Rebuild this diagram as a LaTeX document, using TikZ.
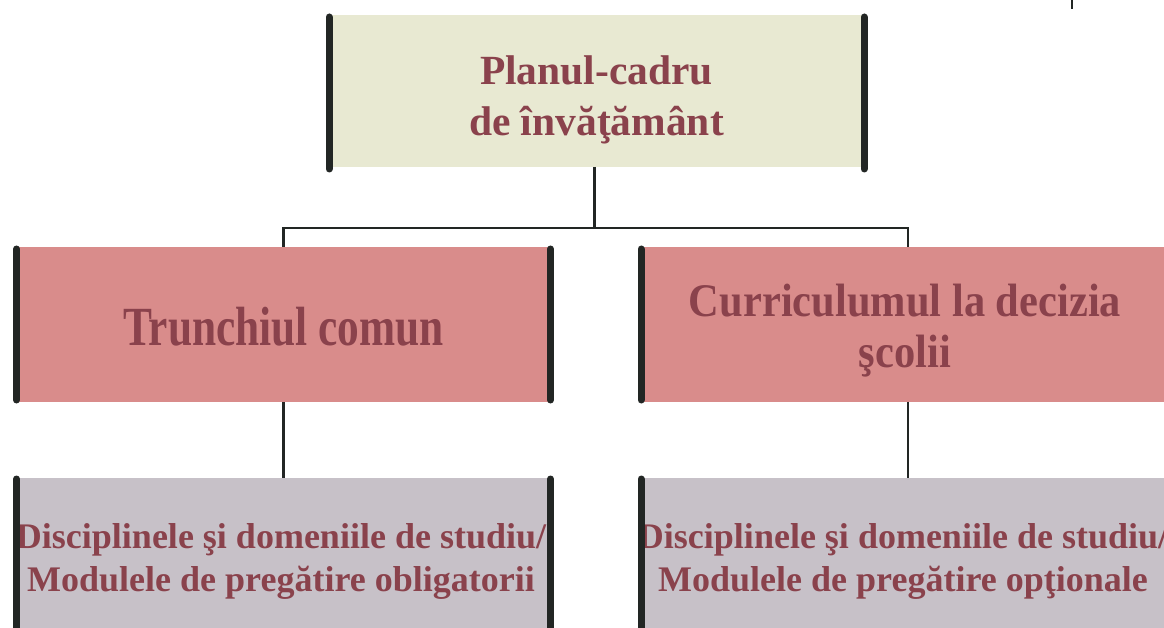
\documentclass[tikz,border=0pt]{standalone}
\usepackage{fontspec}
\setmainfont{Liberation Serif}
\definecolor{txt}{HTML}{8A424C}
\definecolor{topfill}{HTML}{E8E9D2}
\definecolor{pinkfill}{HTML}{D98C8B}
\definecolor{grayfill}{HTML}{C7C1C8}
\definecolor{barcol}{HTML}{222624}
\begin{document}
\begin{tikzpicture}[x=1pt,y=1pt,
  box/.style={inner sep=0pt, outer sep=0pt},
  topbox/.style={box, fill=topfill, minimum width=535, minimum height=152},
  pinkbox/.style={box, fill=pinkfill, minimum width=534, minimum height=155},
  graybox/.style={box, fill=grayfill, minimum width=534, minimum height=182},
  lbl/.style={inner sep=0pt, align=center, text=txt},
  bigfont/.style={font=\fontsize{41.5}{51}\selectfont\bfseries},
  pinkfont/.style={font=\fontsize{42.5}{51}\selectfont\bfseries},
  smallfont/.style={font=\fontsize{36}{43}\selectfont\bfseries},
  barline/.style={draw=barcol, line width=7pt, line cap=round},
  conn/.style={draw=barcol, line width=2.4pt}]
\useasboundingbox (0,0) rectangle (1164,-628);
% boxes
\node[topbox]  (top)   at (596.5,-91)  {};
\node[pinkbox] (left)  at (283.5,-324.5) {};
\node[pinkbox] (right) at (908,-324.5) {};
\node[graybox] (bl)    at (283.5,-569) {};
\node[graybox] (br)    at (908,-569) {};
% texts
\node[lbl, bigfont] (ttop) at (596.5,-100) {Planul-cadru\\de învăţământ};
\node[lbl, pinkfont, anchor=base] (tleft) at (283.5,-345) {\scalebox{1.02}[1.3]{Trunchiul comun}};
\node[lbl, pinkfont] (tright) at (905,-331) {\scalebox{1}[1.1]{Curriculumul la decizia}\\\scalebox{1}[1.1]{şcolii}};
\node[lbl, smallfont] (tbl) at (281,-561) {Disciplinele şi domeniile de studiu/\\Modulele de pregătire obligatorii};
\node[lbl, smallfont] (tbr) at (903,-561) {Disciplinele şi domeniile de studiu/\\Modulele de pregătire opţionale};
% side bars
\draw[barline] ([yshift=-2]top.north west) -- ([yshift=-2]top.south west);
\draw[barline] ([yshift=-2]top.north east) -- ([yshift=-2]top.south east);
\draw[barline] ([yshift=-2]left.north west) -- ([yshift=2]left.south west);
\draw[barline] ([yshift=-2]left.north east) -- ([yshift=2]left.south east);
\draw[barline] ([yshift=-2]right.north west) -- ([yshift=2]right.south west);
\draw[barline] ([yshift=-1]bl.north west) -- (bl.south west);
\draw[barline] ([yshift=-1]bl.north east) -- (bl.south east);
\draw[barline] ([yshift=-1]br.north west) -- (br.south west);
% connectors
\draw[conn] ([xshift=-2]top.south) -- ++(0,-61) coordinate (j);
\draw[conn] (left.north) |- (j) -| (right.north);
\draw[conn] (left.south) -- (bl.north);
\draw[conn] (right.south) -- (br.north);
% small tick at top right
\coordinate (tk1) at (1072,0);
\coordinate (tk2) at (1072,-9);
\draw[conn] (tk1) -- (tk2);
\end{tikzpicture}
\end{document}
